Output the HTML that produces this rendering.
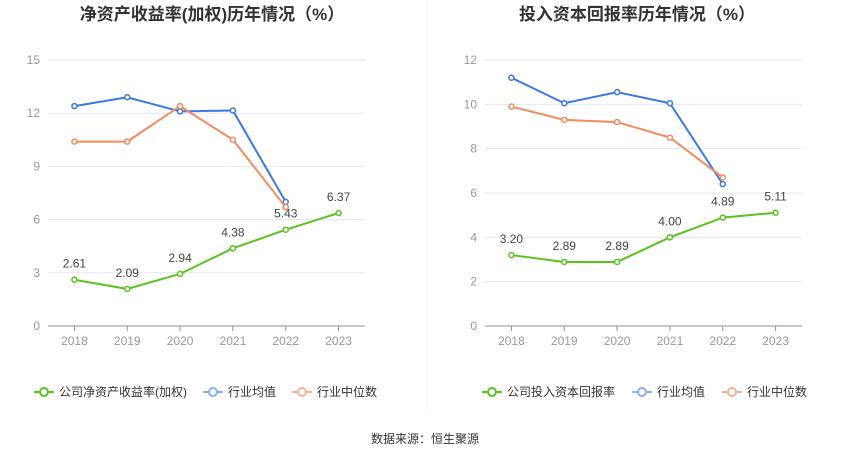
<!DOCTYPE html>
<html><head><meta charset="utf-8">
<style>
body{margin:0;width:850px;height:459px;background:#fff;overflow:hidden;font-family:"Liberation Sans","Noto Sans CJK SC",sans-serif;}
svg text{font-family:"Liberation Sans","Noto Sans CJK SC",sans-serif;}
</style></head><body>
<svg id="s" width="850" height="459">
<line x1="427" y1="0" x2="427" y2="410" stroke="#eee"/>
<text x="212" y="20" text-anchor="middle" font-size="17" font-weight="bold" fill="#333">净资产收益率(加权)历年情况（%）</text>
<text x="637" y="20" text-anchor="middle" font-size="17" font-weight="bold" fill="#333">投入资本回报率历年情况（%）</text>
<text x="425" y="443" text-anchor="middle" font-size="12" fill="#333">数据来源：恒生聚源</text>
</svg>
<script>
const years=["2018","2019","2020","2021","2022","2023"];
const roeCompany=[2.61,2.09,2.94,4.38,5.43,6.37];
const roeAvg=[12.4,12.9,12.1,12.15,7.0];
const roeMedian=[10.4,10.4,12.4,10.5,6.7];
const roeTicks=[0,3,6,9,12,15];
const roicCompany=[3.20,2.89,2.89,4.00,4.89,5.11];
const roicAvg=[11.2,10.05,10.55,10.05,6.4];
const roicMedian=[9.9,9.3,9.2,8.5,6.7];
const roicTicks=[0,2,4,6,8,10,12];
const NS="http://www.w3.org/2000/svg";
const svg=document.getElementById('s');
function mk(t,a){const e=document.createElementNS(NS,t);for(const k in a)e.setAttribute(k,a[k]);svg.appendChild(e);return e;}
function chart(p,x0,x1,ticks,comp,avg,med,compName,legendX){
  const y0=326,yt=60,max=ticks[ticks.length-1];
  const band=(x1-x0)/years.length;
  const X=i=>x0+band*(i+0.5);
  const Y=v=>y0-(v/max)*(y0-yt);
  ticks.forEach(t=>{
    if(t>0){const g=mk('line',{x1:x0,x2:x1,y1:Y(t),y2:Y(t),stroke:'#e3e8f3'});
    
    }
    const l=mk('text',{x:x0-8,y:Y(t)+4,'text-anchor':'end','font-size':12,fill:'#999'});l.textContent=t;
    
    
  });
  const ax=mk('line',{x1:x0,x2:x1,y1:y0,y2:y0,stroke:'#8f939c'});
  
  
  years.forEach((yr,i)=>{
    const tk=mk('line',{x1:X(i),x2:X(i),y1:y0,y2:y0+5,stroke:'#8f939c'});
    
    
    const l=mk('text',{x:X(i),y:y0+19,'text-anchor':'middle','font-size':12,fill:'#999'});l.textContent=yr;
    
    
  });
  function series(vals,col,name,labels){
    const pl=mk('polyline',{points:vals.map((v,i)=>X(i)+','+Y(v)).join(' '),fill:'none',stroke:col,'stroke-width':2});
    
    
    vals.forEach((v,i)=>{
      const c=mk('circle',{cx:X(i),cy:Y(v),r:2.5,fill:'#fff',stroke:col,'stroke-width':1.5});
      
      
      if(labels){const t=mk('text',{x:X(i),y:Y(v)-12,'text-anchor':'middle','font-size':12,fill:'#444'});t.textContent=v.toFixed(2);
      
      }
    });
  }
  series(avg,'#3a78e8','industry-avg',false);
  series(med,'#f58a5c','industry-median',false);
  series(comp,'#5ac21f','company',true);
  const ly=392;
  const items=[[compName,'#5ac21f',legendX[0]],['行业均值','#8cb0f0',legendX[1]],['行业中位数','#f6b394',legendX[2]]];
  items.forEach(([n,c,lx])=>{
    const ln=mk('line',{x1:lx,x2:lx+20,y1:ly,y2:ly,stroke:c,'stroke-width':2});
    
    
    const cc=mk('circle',{cx:lx+10,cy:ly,r:4,fill:'#fff',stroke:c,'stroke-width':2});
    
    
    const t=mk('text',{x:lx+25,y:ly+4,'font-size':12,fill:'#333'});t.textContent=n;
    
    
  });
}
chart('roe',48,365,roeTicks,roeCompany,roeAvg,roeMedian,'公司净资产收益率(加权)',[34,203,292]);
chart('roic',485,802,roicTicks,roicCompany,roicAvg,roicMedian,'公司投入资本回报率',[482,632,722]);
</script>
</body></html>
